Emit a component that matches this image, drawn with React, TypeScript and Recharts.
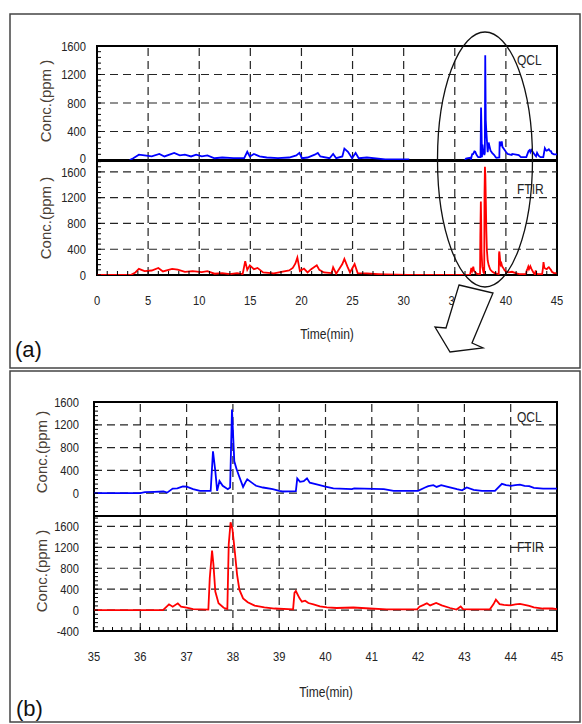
import React from "react";
import { LineChart, Line, XAxis, YAxis, ReferenceLine, ReferenceArea } from "recharts";

type Pt = [number, number | null];

// (a) overview: part of the run before the zoomed window (min, ppm)
const qclEarly: Pt[] = [
  [3.2, 0], [3.55, 25], [4.1, 75], [4.65, 65], [5.35, 50], [6.1, 85], [6.6, 50],
  [7.55, 100], [8.1, 65], [8.6, 75], [9.2, 50], [9.7, 75], [10.25, 50], [10.8, 65],
  [11.5, 25], [12.25, 35], [13.35, 25], [14.4, 25], [14.7, 115], [14.95, 50],
  [15.35, 85], [15.9, 50], [16.6, 35], [17.7, 25], [18.8, 35], [19.5, 65],
  [19.8, 100], [20.05, 25], [20.6, 35], [21.3, 75], [21.6, 100], [21.85, 50],
  [22.75, 25], [23.1, 85], [23.4, 25], [24.0, 50], [24.2, 160], [24.55, 115],
  [24.95, 25], [25.3, 100], [25.6, 25], [26.4, 35], [28.2, 10], [30.55, 10],
  [33, null],
];

const ftirEarly: Pt[] = [
  [0, 0], [3.3, 0], [3.75, 40], [4.1, 95], [4.65, 60], [5.35, 70], [6.0, 110],
  [6.45, 55], [7.35, 95], [7.9, 85], [8.6, 50], [9.35, 60], [10.25, 45], [10.8, 60],
  [11.5, 20], [12.25, 30], [13.0, 15], [13.7, 30], [14.25, 15], [14.5, 215],
  [14.7, 80], [14.95, 150], [15.35, 90], [15.7, 110], [16.25, 40], [17.3, 25],
  [18.05, 50], [18.8, 70], [19.15, 110], [19.4, 175], [19.6, 270], [19.85, 60],
  [20.25, 100], [20.6, 40], [20.95, 90], [21.5, 150], [21.75, 80], [22.2, 40],
  [22.95, 30], [23.1, 120], [23.4, 20], [24.0, 170], [24.2, 250], [24.5, 130],
  [24.75, 40], [25.2, 170], [25.5, 30], [26.4, 25], [27.5, 15], [28.2, 10], [30.4, 0],
];

// (b) zoomed window 35-45 min
const qclZoom: Pt[] = [
  [35, 0], [36, 0], [36.1, 20], [36.3, 25], [36.5, 30], [36.58, 10], [36.7, 80],
  [36.8, 85], [36.92, 120], [37.0, 115], [37.14, 70], [37.29, 40], [37.52, 40],
  [37.57, 735], [37.62, 390], [37.66, 40], [37.71, 215], [37.78, 130], [37.89, 70],
  [37.94, 100], [37.98, 1470], [38.03, 560], [38.08, 420], [38.14, 285], [38.22, 110],
  [38.27, 190], [38.31, 245], [38.4, 190], [38.5, 130], [38.65, 100], [38.86, 70],
  [39.0, 40], [39.07, 30], [39.36, 35], [39.39, 260], [39.45, 200], [39.53, 210],
  [39.6, 260], [39.66, 185], [39.81, 155], [40.0, 115], [40.17, 85], [40.57, 70],
  [40.62, 85], [41.26, 70], [41.47, 40], [42.0, 40], [42.15, 100], [42.22, 125],
  [42.33, 140], [42.4, 110], [42.5, 140], [42.62, 115], [42.84, 70], [42.95, 50],
  [43.05, 100], [43.2, 60], [43.38, 40], [43.66, 40], [43.81, 165], [43.9, 140],
  [44.0, 130], [44.1, 140], [44.2, 150], [44.3, 130], [44.4, 125], [44.5, 95],
  [44.7, 80], [44.85, 80], [45.0, 80],
];

const ftirZoom: Pt[] = [
  [35, 0], [36, 0], [36.49, 0], [36.62, 110], [36.7, 65], [36.81, 130], [36.88, 65],
  [37.0, 45], [37.14, 20], [37.47, 10], [37.5, 610], [37.55, 1140], [37.58, 870],
  [37.62, 355], [37.69, 130], [37.8, 45], [37.88, 20], [37.91, 1260], [37.95, 1680],
  [37.99, 1550], [38.04, 1130], [38.09, 680], [38.14, 390], [38.22, 225], [38.32, 150],
  [38.47, 85], [38.68, 50], [38.9, 30], [39.3, 15], [39.33, 330], [39.36, 365],
  [39.44, 225], [39.49, 160], [39.56, 180], [39.63, 135], [39.74, 110], [39.88, 70],
  [40.03, 50], [40.24, 40], [40.6, 50], [40.96, 30], [41.32, 15], [41.98, 15],
  [42.03, 65], [42.12, 100], [42.19, 130], [42.26, 90], [42.39, 135], [42.51, 90],
  [42.69, 40], [42.83, 10], [42.92, 70], [42.97, 20], [43.12, 15], [43.55, 15],
  [43.63, 115], [43.68, 200], [43.76, 115], [43.85, 100], [44.0, 90], [44.1, 110],
  [44.2, 120], [44.3, 100], [44.4, 80], [44.5, 50], [44.7, 30], [44.9, 30], [45.0, 20],
];

const qclFull: Pt[] = [...qclEarly, ...qclZoom.filter(([t]) => t >= 36)];
const ftirFull: Pt[] = [...ftirEarly, ...ftirZoom];

const xLabelsA = [0, 5, 10, 15, 20, 25, 30, 35, 40, 45];
const xLabelsB = [35, 36, 37, 38, 39, 40, 41, 42, 43, 44, 45];
const yLabels = [0, 400, 800, 1200, 1600];
const yLabelsNeg = [-400, 0, 400, 800, 1200, 1600];

const xMinorA = Array.from({ length: 46 }, (_, i) => i);
const xMinorB = Array.from({ length: 51 }, (_, i) => (350 + i * 2) / 10);
const yMinor = (from: number, to: number) =>
  Array.from({ length: Math.floor((to - from) / 80) + 1 }, (_, i) => from + i * 80);

const FONT = '"Liberation Sans", Arial, Helvetica, sans-serif';
const INK = "#242424";

const near = (list: number[], v: number) => list.some((m) => Math.abs(m - v) < 1e-6);

type PlotProps = {
  top: number;
  height: number;
  mTop: number;
  mBottom: number;
  data: Pt[];
  color: string;
  xDomain: [number, number];
  xMinor: number[];
  xGrid: number[];
  xLabels: number[] | null;
  yDomain: [number, number];
  yMinor: number[];
  yLabels: number[];
  yGrid: number[];
  yWidth: number;
  yGap: number;
  fontSize: number;
  lift?: number; // nudge the lowest y label up, where the next panel's top label sits close
};

function SubPlot(p: PlotProps) {
  const rows = p.data.map(([t, c]) => ({ t, c }));
  const xTick = (t: any) => {
    const v = t.payload.value;
    if (!p.xLabels || !near(p.xLabels, v)) return <g />;
    return (
      <text
        transform={`translate(${t.x},${t.y}) scale(0.86,1)`}
        textAnchor="middle"
        dy="0.75em"
        fontSize={p.fontSize}
        fontFamily={FONT}
        fill={INK}
      >
        {v}
      </text>
    );
  };
  const yTick = (t: any) => {
    const v = t.payload.value;
    if (!near(p.yLabels, v)) return <g />;
    const shift = v === p.yDomain[0] && p.lift ? -p.lift : 0;
    return (
      <text
        transform={`translate(${t.x},${t.y + shift}) scale(0.86,1)`}
        textAnchor="end"
        dy="0.36em"
        fontSize={p.fontSize}
        fontFamily={FONT}
        fill={INK}
      >
        {v}
      </text>
    );
  };
  return (
    <div style={{ position: "absolute", left: 0, top: p.top }}>
      <LineChart
        width={582}
        height={p.height}
        data={rows}
        margin={{ top: p.mTop, right: 25, bottom: p.mBottom, left: 0 }}
      >
        <XAxis
          dataKey="t"
          type="number"
          domain={p.xDomain}
          ticks={p.xMinor}
          interval={0}
          allowDataOverflow
          axisLine={false}
          tickLine={{ stroke: "#000", strokeWidth: 1 }}
          tickSize={-4}
          tickMargin={24}
          height={p.xLabels ? 40 : 0}
          tick={xTick}
        />
        <YAxis
          type="number"
          domain={p.yDomain}
          ticks={p.yMinor}
          interval={0}
          allowDataOverflow
          axisLine={false}
          tickLine={{ stroke: "#000", strokeWidth: 1 }}
          tickSize={-4}
          tickMargin={p.yGap + 4}
          width={p.yWidth}
          tick={yTick}
        />
        {p.xGrid.map((v) => (
          <ReferenceLine key={`x${v}`} x={v} stroke={INK} strokeWidth={1.2} strokeDasharray="8 5" />
        ))}
        {p.yGrid.map((v) => (
          <ReferenceLine key={`y${v}`} y={v} stroke={INK} strokeWidth={1.2} strokeDasharray="8 5" />
        ))}
        <Line
          dataKey="c"
          type="linear"
          stroke={p.color}
          strokeWidth={1.8}
          dot={false}
          connectNulls={false}
          isAnimationActive={false}
        />
        <ReferenceArea
          x1={p.xDomain[0]}
          x2={p.xDomain[1]}
          y1={p.yDomain[0]}
          y2={p.yDomain[1]}
          fill="none"
          stroke="#000"
          strokeWidth={2}
          ifOverflow="visible"
        />
      </LineChart>
    </div>
  );
}

function Overlay() {
  const txt = { fontFamily: FONT, fill: INK } as const;
  const conc = (cx: number, cy: number) => (
    <text
      transform={`translate(${cx},${cy}) rotate(-90)`}
      textAnchor="middle"
      dy="0.35em"
      fontSize={15}
      {...txt}
      fill="#4a4036"
    >
      Conc.(ppm )
    </text>
  );
  const tag = (x: number, y: number, s: string) => (
    <text transform={`translate(${x},${y}) scale(0.86,1)`} dy="0.36em" fontSize={14} {...txt}>
      {s}
    </text>
  );
  return (
    <svg
      width={582}
      height={724}
      style={{ position: "absolute", left: 0, top: 0, pointerEvents: "none" }}
    >
      <rect x={10} y={14} width={570} height={354} fill="none" stroke="#444" strokeWidth={1.5} />
      <rect x={10} y={371} width={570} height={351} fill="none" stroke="#444" strokeWidth={1.5} />
      {conc(45.5, 101)}
      {conc(45.5, 218)}
      {conc(41.5, 452)}
      {conc(41.5, 571)}
      {tag(517, 60, "QCL")}
      {tag(517, 189, "FTIR")}
      {tag(517, 417, "QCL")}
      {tag(517, 547, "FTIR")}
      <text transform="translate(327,334) scale(0.86,1)" textAnchor="middle" dy="0.36em" fontSize={14} {...txt}>
        Time(min)
      </text>
      <text transform="translate(326,692) scale(0.86,1)" textAnchor="middle" dy="0.36em" fontSize={14} {...txt}>
        Time(min)
      </text>
      <text x={15} y={349} dy="0.36em" fontSize={22} {...txt} fill="#111">
        (a)
      </text>
      <text x={16} y={708} dy="0.36em" fontSize={22} {...txt} fill="#111">
        (b)
      </text>
      <ellipse cx={485} cy={159.5} rx={47.5} ry={127.5} fill="none" stroke="#111" strokeWidth={1.3} />
      <polygon
        points="459,285 493,293 472,343 483,348 450,352 435,327 446,328"
        fill="#fff"
        stroke="#111"
        strokeWidth={1.3}
      />
    </svg>
  );
}

export default function App() {
  return (
    <div style={{ position: "absolute", left: 0, top: 0, width: 582, height: 724, background: "#fff" }}>
      <SubPlot
        top={0}
        height={172}
        mTop={46}
        mBottom={12}
        data={qclFull}
        color="#0000ff"
        xDomain={[0, 45]}
        xMinor={xMinorA}
        xGrid={[5, 10, 15, 20, 25, 30, 35, 40]}
        xLabels={null}
        yDomain={[0, 1600]}
        yMinor={yMinor(0, 1600)}
        yLabels={yLabels}
        yGrid={[400, 800, 1200]}
        yWidth={97}
        yGap={11}
        fontSize={13}
        lift={2}
      />
      <SubPlot
        top={150}
        height={165}
        mTop={11}
        mBottom={0}
        data={ftirFull}
        color="#ff0000"
        xDomain={[0, 45]}
        xMinor={xMinorA}
        xGrid={[5, 10, 15, 20, 25, 30, 35, 40]}
        xLabels={xLabelsA}
        yDomain={[0, 1770]}
        yMinor={yMinor(0, 1770)}
        yLabels={yLabels}
        yGrid={[400, 800, 1200, 1600]}
        yWidth={97}
        yGap={11}
        fontSize={13}
      />
      <SubPlot
        top={390}
        height={128}
        mTop={12}
        mBottom={2}
        data={qclZoom}
        color="#0000ff"
        xDomain={[35, 45]}
        xMinor={xMinorB}
        xGrid={[36, 37, 38, 39, 40, 41, 42, 43, 44]}
        xLabels={null}
        yDomain={[-400, 1600]}
        yMinor={yMinor(-400, 1600)}
        yLabels={yLabels}
        yGrid={[0, 400, 800, 1200]}
        yWidth={94}
        yGap={15}
        fontSize={13}
      />
      <SubPlot
        top={505}
        height={166}
        mTop={11}
        mBottom={0}
        data={ftirZoom}
        color="#ff0000"
        xDomain={[35, 45]}
        xMinor={xMinorB}
        xGrid={[36, 37, 38, 39, 40, 41, 42, 43, 44]}
        xLabels={xLabelsB}
        yDomain={[-400, 1800]}
        yMinor={yMinor(-400, 1800)}
        yLabels={yLabelsNeg}
        yGrid={[0, 400, 800, 1200, 1600]}
        yWidth={94}
        yGap={15}
        fontSize={13}
      />
      <Overlay />
    </div>
  );
}
